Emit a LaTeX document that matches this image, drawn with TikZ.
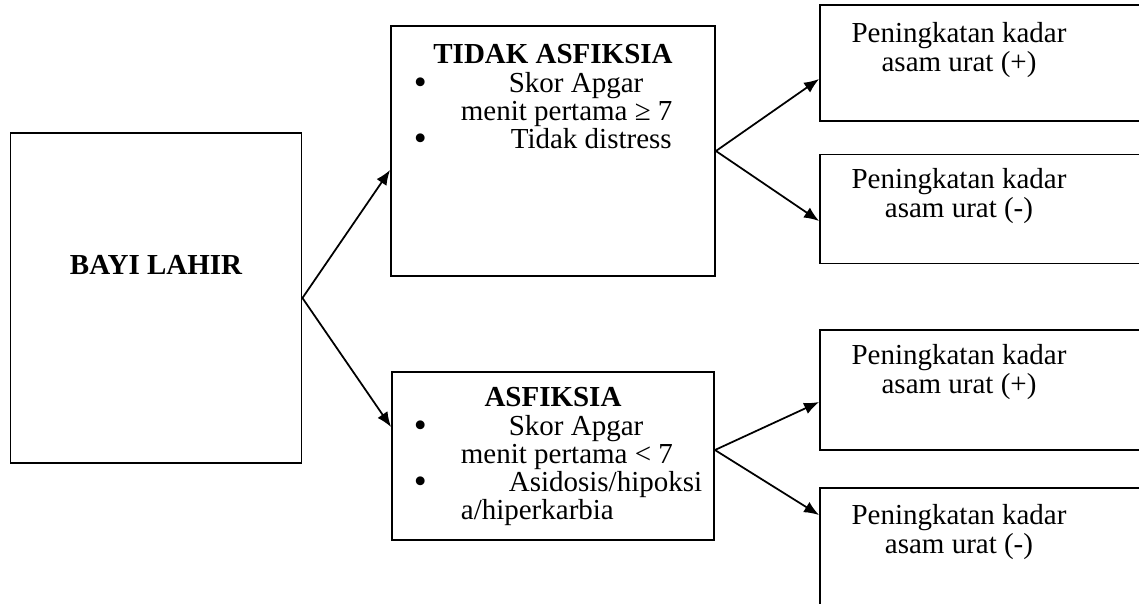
\documentclass[tikz,border=0pt]{standalone}
\usepackage{fontspec}
\setmainfont{Liberation Serif}
\usetikzlibrary{arrows.meta,positioning,calc}

\newcommand{\butir}{\llap{\raisebox{-1.2pt}{\fontsize{21}{0}\selectfont\textbullet}\hspace{0.68cm}}}

\begin{document}
\begin{tikzpicture}[x=0.02cm, y=-0.02cm, line width=1pt, kotak/.style={draw,line width=1.1pt,inner sep=0pt}, teks/.style={font=\fontsize{16.5}{16}\selectfont,align=center,inner sep=0pt}, judul/.style={teks,font=\fontsize{16.5}{16}\selectfont\bfseries}, daftar/.style={teks,align=left,anchor=north west}, panah/.style={-{Latex[length=3mm,width=2.4mm]}}]
\useasboundingbox (0,0) rectangle (1139,603);
\clip (0,0) rectangle (1139,603);
\begin{scope}
\node[kotak,minimum width=5.82cm,minimum height=6.6cm] (bayi) at (156,298) {};
\node[kotak,minimum width=6.48cm,minimum height=5cm] (tidak) at (553,151) {};
\node[kotak,minimum width=6.44cm,minimum height=3.36cm] (asf) at (553,456) {};
\node[kotak,minimum width=7.6cm,minimum height=2.32cm] (r1) at (1010,63) {};
\node[kotak,minimum width=7.6cm,minimum height=2.18cm] (r2) at (1010,209) {};
\node[kotak,minimum width=7.6cm,minimum height=2.4cm] (r3) at (1010,390) {};
\node[kotak,minimum width=7.6cm,minimum height=3cm] (r4) at (1010,563) {};
\end{scope}
\begin{scope}
\node[judul] (bayi_t) at (156,265) {BAYI LAHIR};
\node[judul] (tidak_t) at (553,54) {TIDAK ASFIKSIA};
\node[daftar] (tidak_l) at (460,71) {\butir\hspace{0.96cm}Skor Apgar\\menit pertama ≥ 7\\\butir\hspace{1cm}Tidak distress};
\node[judul] (asf_t) at (553,397) {ASFIKSIA};
\node[daftar] (asf_l) at (460,414) {\butir\hspace{0.96cm}Skor Apgar\\menit pertama < 7\\\butir\hspace{0.96cm}Asidosis/hipoksi\\a/hiperkarbia};
\node[teks] (r1_t) at (959,50) {Peningkatan kadar\\asam urat (+)};
\node[teks] (r2_t) at (959,196) {Peningkatan kadar\\asam urat (-)};
\node[teks] (r3_t) at (959,372) {Peningkatan kadar\\asam urat (+)};
\node[teks] (r4_t) at (959,532) {Peningkatan kadar\\asam urat (-)};
\end{scope}
% ujung panah
\coordinate (asf_out) at ($(asf.east)+(0,-6)$);
\coordinate (tidak_in) at ($(tidak.west)+(0,19)$);
\coordinate (asf_in) at ($(asf.west)+(0,-29)$);
\coordinate (r1_in) at ($(r1.west)+(0,16)$);
\coordinate (r2_in) at ($(r2.west)+(0,12)$);
\coordinate (r3_in) at ($(r3.west)+(0,12)$);
\coordinate (r4_in) at ($(r4.north west)+(0,28)$);
\begin{scope}
\draw[panah] (bayi.east) -- (tidak_in);
\draw[panah] (bayi.east) -- (asf_in);
\draw[panah] (tidak.east) -- (r1_in);
\draw[panah] (tidak.east) -- (r2_in);
\draw[panah] (asf_out) -- (r3_in);
\draw[panah] (asf_out) -- (r4_in);
\end{scope}
\end{tikzpicture}
\end{document}
